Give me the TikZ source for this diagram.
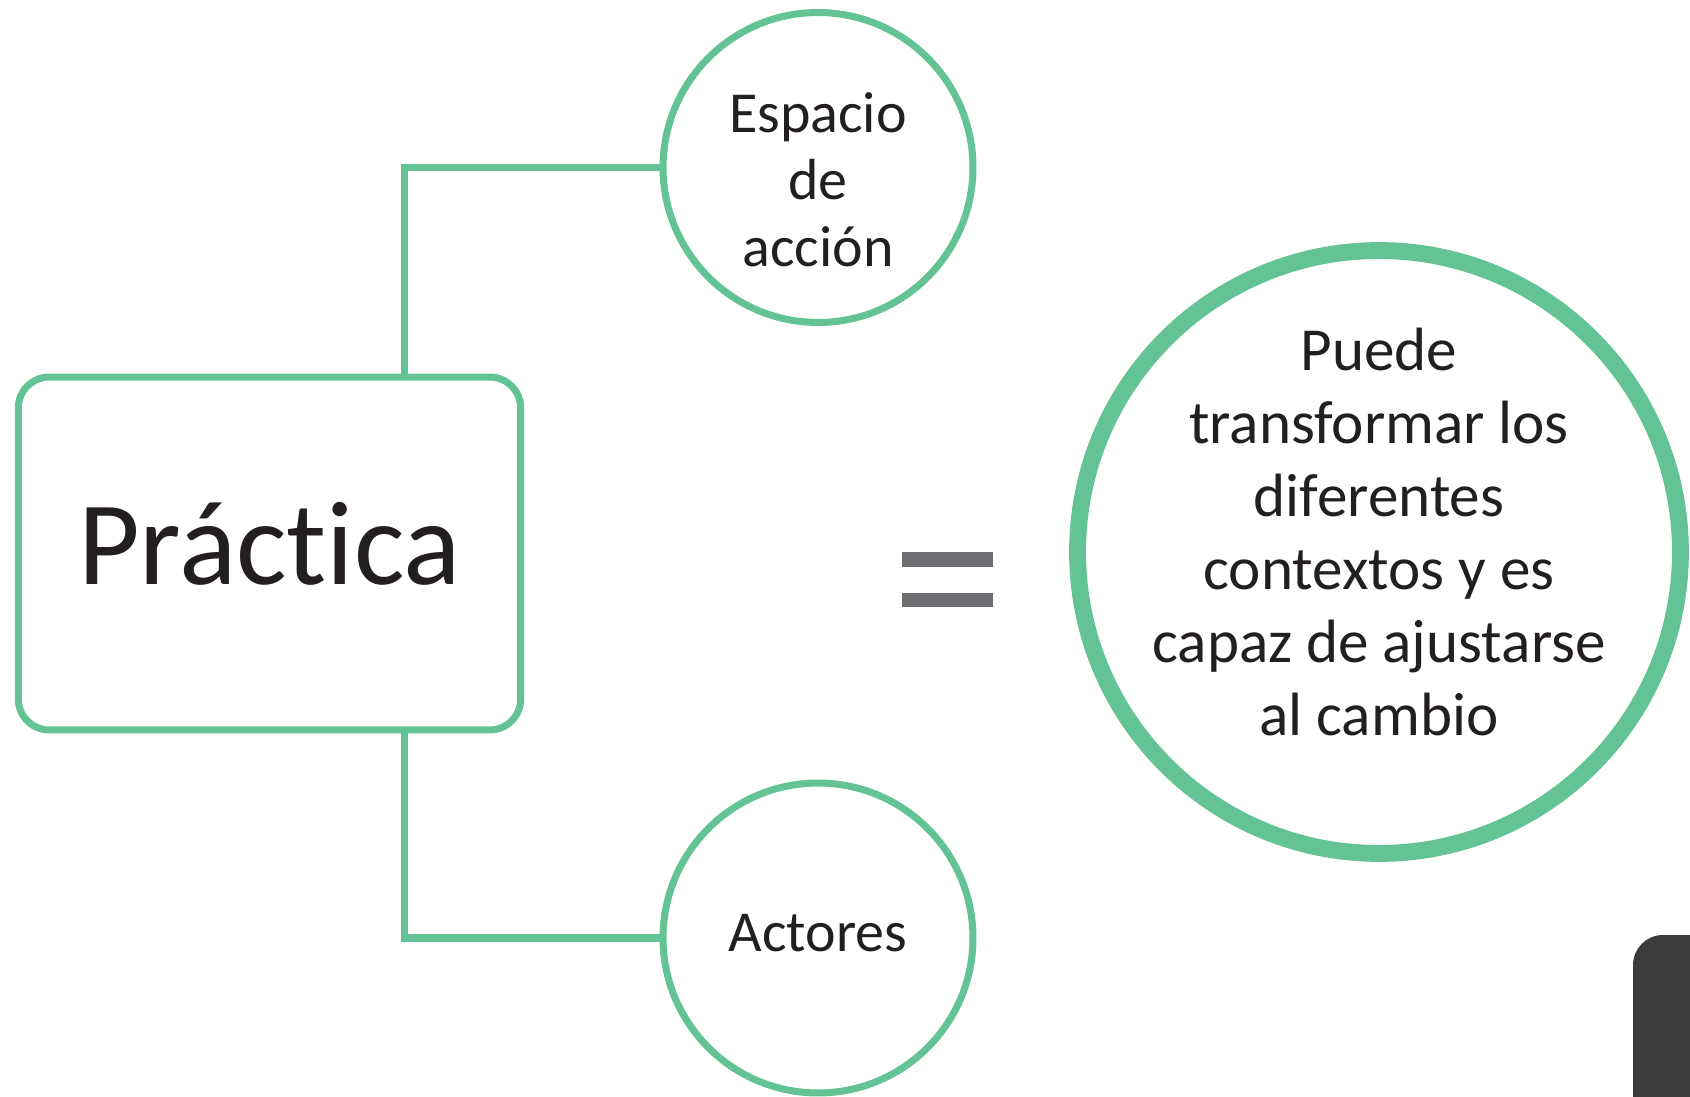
\documentclass[tikz,border=0pt]{standalone}
\usepackage{fontspec}
\setmainfont{Carlito}[Ligatures=NoCommon]
\usepackage{tikz}
\definecolor{verde}{HTML}{63C394}
\definecolor{gris}{HTML}{6D6E71}
\definecolor{oscuro}{HTML}{3A3B3A}
\definecolor{tinta}{HTML}{231F20}
\tikzstyle{caja}=[draw=verde,line width=4pt,rounded corners=0.62cm,minimum width=10.05cm,minimum height=7.06cm,text=tinta,font=\fontsize{68}{72}\selectfont]
\tikzstyle{anillo}=[circle,draw=verde,line width=4pt,minimum size=6.2cm]
\tikzstyle{anillog}=[circle,draw=verde,line width=9.6pt,minimum size=12.06cm]
\tikzstyle{rotulo}=[align=center,text=tinta,inner sep=0pt,font=\fontsize{33}{38.1}\selectfont]
\tikzstyle{rotulog}=[align=center,text=tinta,inner sep=0pt,font=\fontsize{34.8}{41.5}\selectfont]
\tikzstyle{enlace}=[draw=verde,line width=4pt]

\begin{document}
\begin{tikzpicture}[x=0.02cm,y=-0.02cm]
    \useasboundingbox (0,0) rectangle (1690,1097);
    \clip (0,0) rectangle (1690,1097);
    \node[caja,text depth=11pt] (prac) at (269.5,553.5) {Práctica};
    \node[anillo] (esp) at (818,167.5) {};
    \node[anillo] (act) at (818,938) {};
    \node[anillog] (camb) at (1379,552) {};
    \node[rotulo] (esptxt) at (818,180) {Espacio\\de\\acción};
    \node[rotulo] (acttxt) at (818,933) {Actores};
    \node[rotulog] (cambtxt) at (1379,532) {Puede\\transformar los\\diferentes\\contextos y es\\capaz de ajustarse\\al cambio};
    \draw[enlace] ([xshift=2.71cm]prac.north) |- (esp.west);
    \draw[enlace] ([xshift=2.71cm]prac.south) |- (act.west);
    % signo igual
    \fill[gris] (902,552) rectangle (993,567);
    \fill[gris] (902,593) rectangle (993,607);
    % pestana oscura
    \fill[oscuro,rounded corners=0.6cm] (1633,935) rectangle (1760,1160);
\end{tikzpicture}
\end{document}
